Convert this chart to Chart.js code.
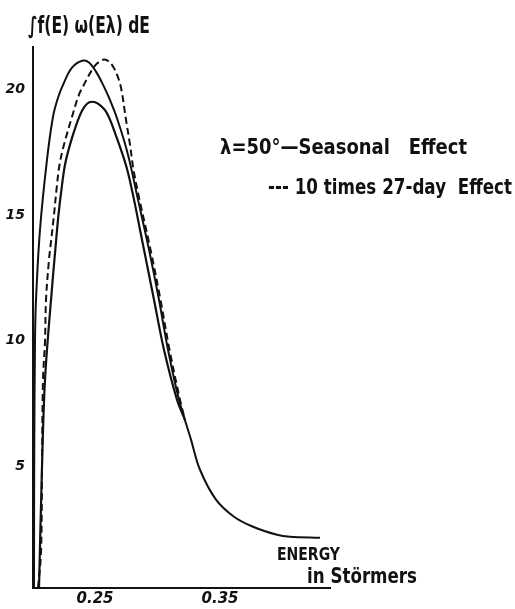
<!DOCTYPE html>
<html>
<head>
<meta charset="utf-8">
<script src="https://cdn.jsdelivr.net/npm/chart.js@4/dist/chart.umd.min.js"></script>
<style>
html,body{margin:0;padding:0;background:#fff;}
canvas{display:block;}
</style>
</head>
<body>
<canvas id="c" width="515" height="609"></canvas>
<script>
// ---- data ----
// Seasonal effect, upper solid curve (energy in Störmers, integral value)
const upperEnergy = [0.1924,0.19256,0.1932,0.1940,0.1972,0.2028,0.2076,0.2116,0.2164,0.2228,0.2316,0.2364,0.2420,0.2468,0.2524,0.2592,0.2676,0.2756,0.2844,0.2924,0.2996,0.3084,0.3180,0.3252,0.3380,0.3524,0.3676,0.3868,0.3972,0.4212];
const upperValue  = [0.16,4.98,9.96,11.63,14.42,17.21,18.92,19.68,20.28,20.88,21.16,21.08,20.72,20.28,19.68,18.80,17.41,15.62,13.63,11.63,9.64,7.65,6.06,4.86,3.67,2.99,2.59,2.27,2.19,2.15];
// Seasonal effect, lower solid curve
const lowerEnergy = [0.1964,0.1988,0.2012,0.2060,0.2100,0.2120,0.21456,0.2172,0.2212,0.2260,0.2308,0.2348,0.2388,0.2436,0.25056,0.25856,0.26656,0.2724,0.2772,0.2884,0.2964,0.3068,0.3132];
const lowerValue  = [0.16,4.98,8.45,11.63,13.94,15.02,16.10,17.01,17.81,18.57,19.16,19.44,19.52,19.44,19.08,18.09,16.89,15.62,14.42,11.63,9.64,7.65,6.85];
// 10 times 27-day effect, dashed curve
const dayEnergy = [0.1956,0.1980,0.1988,0.1996,0.2012,0.2020,0.2044,0.2060,0.2084,0.2104,0.2128,0.2164,0.2228,0.2284,0.2332,0.2380,0.2428,0.2484,0.2524,0.2556,0.2588,0.2620,0.2660,0.2692,0.2720,0.2768,0.2856,0.2936,0.3008,0.3092,0.3132];
const dayValue  = [0.16,1.55,4.98,8.45,9.96,11.63,13.23,13.94,15.02,16.02,17.01,17.81,18.92,19.80,20.28,20.72,21.04,21.20,21.12,20.92,20.60,20.08,18.80,17.81,16.81,15.62,13.63,11.63,9.64,7.65,6.85];
const xTicks = [0.25, 0.35];
const xTickLabels = ['0.25', '0.35'];
const yTicks = [5, 10, 15, 20];

function pts(xs, ys){ return xs.map((x,i)=>({x:x, y:ys[i]})); }

const ink = '#111';

function fitText(ctx, text, x, y, w, font){
  ctx.save();
  ctx.font = font;
  ctx.textAlign = 'left';
  ctx.textBaseline = 'middle';
  const m = ctx.measureText(text).width;
  ctx.translate(x, y);
  ctx.scale(w / m, 1);
  ctx.fillStyle = ink;
  ctx.fillText(text, 0, 0);
  ctx.restore();
}

const annotations = {
  id: 'annotations',
  afterDraw(chart){
    const ctx = chart.ctx;
    fitText(ctx, '\u222Bf(E) \u03C9(E\u03BB) dE', 28, 27, 122, 'bold 23px "DejaVu Sans"');
    fitText(ctx, '\u03BB=50\u00B0\u2014Seasonal   Effect', 220, 148, 247, 'bold 22px "DejaVu Sans"');
    fitText(ctx, '--- 10 times 27-day  Effect', 268, 188, 244, 'bold 22px "DejaVu Sans"');
    fitText(ctx, 'ENERGY', 277, 556, 63, 'bold 17px "DejaVu Sans"');
    fitText(ctx, 'in St\u00F6rmers', 307, 577, 110, 'bold 22px "DejaVu Sans"');
  }
};

const lineStyle = { borderColor: ink, pointRadius: 0, tension: 0.35, fill: false };

new Chart(document.getElementById('c'), {
  type: 'line',
  data: {
    datasets: [
      Object.assign({label:'Seasonal Effect (upper)', data: pts(upperEnergy, upperValue), borderWidth: 2}, lineStyle),
      Object.assign({label:'Seasonal Effect (lower)', data: pts(lowerEnergy, lowerValue), borderWidth: 2.2}, lineStyle),
      Object.assign({label:'10 times 27-day Effect', data: pts(dayEnergy, dayValue), borderWidth: 2, borderDash:[7,4]}, lineStyle)
    ]
  },
  options: {
    responsive: false,
    animation: false,
    layout: { padding: { top: 47, right: 185, left: 0, bottom: 0 } },
    plugins: { legend: { display: false }, tooltip: { enabled: false }, title: { display: false } },
    scales: {
      x: {
        type: 'linear',
        min: 0.1916, max: 0.4292,
        afterBuildTicks(s){ s.ticks = xTicks.map(v=>({value:v})); },
        afterFit(s){ s.height = 21; },
        grid: { display: false, drawTicks: false },
        border: { display: true, color: ink, width: 2 },
        ticks: {
          padding: 2,
          labelOffset: -11,
          color: ink,
          font: { family: 'DejaVu Sans', size: 15, weight: 'bold', style: 'italic' },
          callback: (v)=> { const i = xTicks.indexOf(v); return i >= 0 ? xTickLabels[i] : ''; }
        }
      },
      y: {
        type: 'linear',
        min: 0.15, max: 21.7,
        afterBuildTicks(s){ s.ticks = yTicks.map(v=>({value:v})); },
        afterFit(s){ s.width = 33; },
        grid: { display: false, drawTicks: false },
        border: { display: true, color: ink, width: 2 },
        ticks: {
          padding: 8,
          color: ink,
          font: { family: 'DejaVu Sans', size: 14, weight: 'bold', style: 'italic' },
          callback: (v)=> String(v)
        }
      }
    }
  },
  plugins: [annotations]
});
</script>
</body>
</html>
